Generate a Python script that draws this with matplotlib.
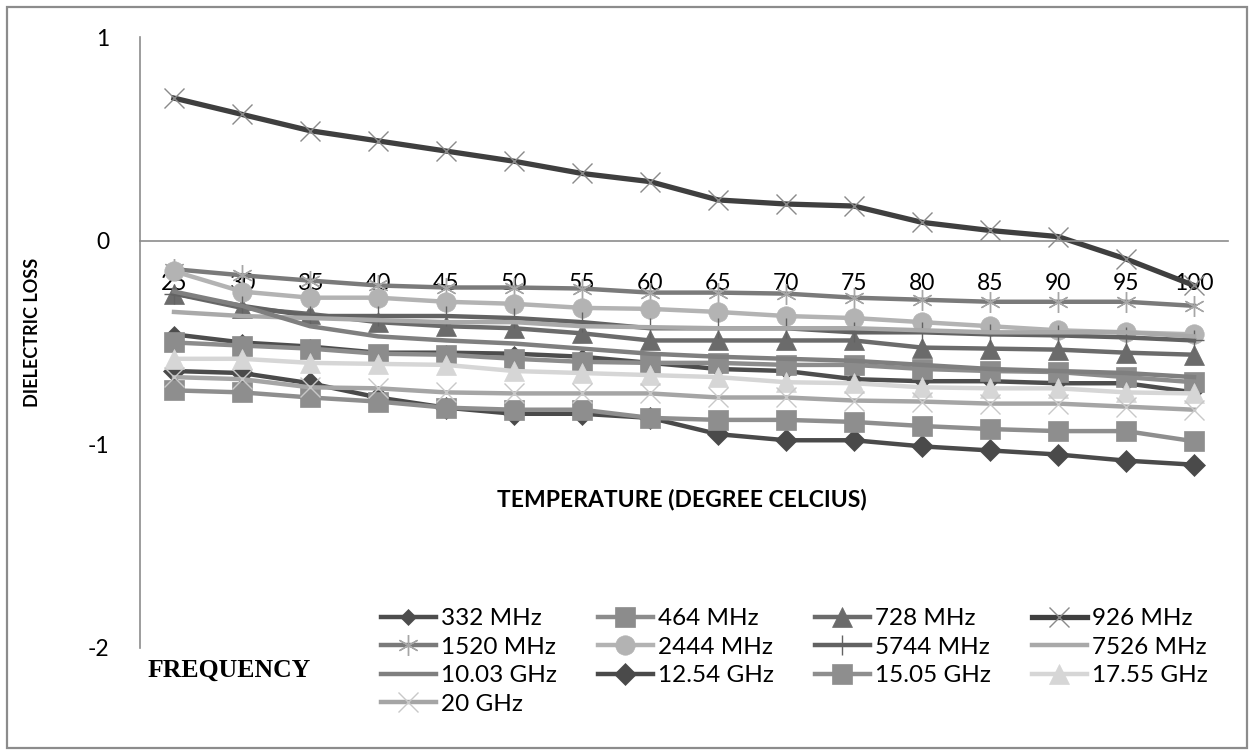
import matplotlib.pyplot as plt
from matplotlib.patches import Rectangle

plt.rcParams['font.family'] = ['Lato', 'DejaVu Sans']
plt.rcParams['axes.unicode_minus'] = False

# temperature steps (degree celcius)
temps = [25, 30, 35, 40, 45, 50, 55, 60, 65, 70, 75, 80, 85, 90, 95, 100]

# dielectric loss per frequency
loss_332 = [-0.46, -0.50, -0.52, -0.55, -0.55, -0.555, -0.57, -0.60, -0.63, -0.64, -0.68, -0.69, -0.69, -0.70, -0.70, -0.745]
loss_464 = [-0.50, -0.515, -0.53, -0.555, -0.56, -0.58, -0.595, -0.60, -0.60, -0.61, -0.61, -0.63, -0.64, -0.645, -0.67, -0.695]
loss_728 = [-0.26, -0.33, -0.36, -0.40, -0.42, -0.43, -0.455, -0.49, -0.49, -0.49, -0.49, -0.525, -0.53, -0.535, -0.55, -0.56]
loss_926 = [0.70, 0.62, 0.54, 0.49, 0.44, 0.39, 0.33, 0.29, 0.20, 0.18, 0.17, 0.09, 0.05, 0.02, -0.09, -0.22]
loss_1520 = [-0.14, -0.17, -0.196, -0.22, -0.23, -0.23, -0.235, -0.255, -0.255, -0.26, -0.28, -0.29, -0.30, -0.30, -0.30, -0.32]
loss_2444 = [-0.15, -0.25, -0.28, -0.28, -0.30, -0.31, -0.33, -0.335, -0.35, -0.37, -0.38, -0.40, -0.42, -0.44, -0.45, -0.46]
loss_5744 = [-0.26, -0.32, -0.37, -0.37, -0.37, -0.38, -0.40, -0.43, -0.43, -0.43, -0.45, -0.45, -0.46, -0.465, -0.475, -0.49]
loss_7526 = [-0.35, -0.37, -0.38, -0.39, -0.40, -0.40, -0.42, -0.425, -0.43, -0.43, -0.43, -0.44, -0.45, -0.45, -0.45, -0.47]
loss_10030 = [-0.25, -0.32, -0.42, -0.47, -0.49, -0.505, -0.53, -0.555, -0.57, -0.58, -0.59, -0.61, -0.63, -0.64, -0.65, -0.67]
loss_12540 = [-0.64, -0.65, -0.70, -0.77, -0.82, -0.85, -0.85, -0.87, -0.95, -0.98, -0.98, -1.01, -1.03, -1.05, -1.08, -1.10]
loss_15050 = [-0.735, -0.745, -0.77, -0.79, -0.82, -0.83, -0.83, -0.87, -0.88, -0.88, -0.89, -0.91, -0.925, -0.935, -0.935, -0.985]
loss_17550 = [-0.58, -0.58, -0.60, -0.605, -0.61, -0.64, -0.65, -0.66, -0.67, -0.695, -0.70, -0.72, -0.725, -0.725, -0.745, -0.75]
loss_20000 = [-0.67, -0.68, -0.72, -0.725, -0.745, -0.75, -0.75, -0.75, -0.77, -0.77, -0.785, -0.79, -0.80, -0.80, -0.815, -0.83]

# label, values, line colour, marker, marker size, marker colour
series = [
    ("332 MHz", loss_332, '#4d4d4d', 'D', 8, '#4d4d4d'),
    ("464 MHz", loss_464, '#8c8c8c', 's', 14, '#8c8c8c'),
    ("728 MHz", loss_728, '#6b6b6b', '^', 14, '#6b6b6b'),
    ("926 MHz", loss_926, '#3f3f3f', 'x', 15, '#8a8a8a'),
    ("1520 MHz", loss_1520, '#7a7a7a', (6, 2, 0), 15, '#a6a6a6'),
    ("2444 MHz", loss_2444, '#b3b3b3', 'o', 14, '#b3b3b3'),
    ("5744 MHz", loss_5744, '#626262', '+', 15, '#626262'),
    ("7526 MHz", loss_7526, '#a9a9a9', None, 0, '#a9a9a9'),
    ("10.03 GHz", loss_10030, '#7f7f7f', None, 0, '#7f7f7f'),
    ("12.54 GHz", loss_12540, '#4a4a4a', 'D', 11, '#4a4a4a'),
    ("15.05 GHz", loss_15050, '#8e8e8e', 's', 14, '#8e8e8e'),
    ("17.55 GHz", loss_17550, '#d6d6d6', '^', 14, '#d6d6d6'),
    ("20 GHz", loss_20000, '#a5a5a5', 'x', 15, '#c8c8c8'),
]

fig = plt.figure(figsize=(12.54, 7.55), dpi=100)
ax = fig.add_axes([140 / 1254, 1 - 648 / 755, 1088 / 1254, 611 / 755])

x = list(range(len(temps)))
handles = []
for name, vals, col, mk, ms, mcol in series:
    lw = 3.8 if name == "926 MHz" else 3.2
    h, = ax.plot(x, vals, color=col, lw=lw, marker=mk, markersize=ms,
                 markerfacecolor=mcol, markeredgecolor=mcol,
                 markeredgewidth=1.0 if mk in ('x', '+', (6, 2, 0)) else 0.5,
                 label=name, solid_joinstyle='round')
    handles.append(h)

ax.set_xlim(-0.5, len(temps) - 0.5)
ax.set_ylim(-2, 1)
ax.set_yticks([1, 0, -1, -2])
ax.set_xticks(x)
ax.set_xticklabels([str(t) for t in temps])

ax.spines['top'].set_visible(False)
ax.spines['right'].set_visible(False)
ax.spines['bottom'].set_position(('data', 0))
for s in ('left', 'bottom'):
    ax.spines[s].set_color('#8c8c8c')
    ax.spines[s].set_linewidth(1.2)
ax.tick_params(axis='x', length=0, pad=23, labelsize=16.5, colors='black')
ax.tick_params(axis='y', length=0, pad=22, labelsize=16.5, colors='black')
ax.set_facecolor('none')

fig.text(682 / 1254, 1 - 500 / 755, "TEMPERATURE (DEGREE CELCIUS)",
         ha='center', va='center', fontsize=16.5, fontweight='bold')
fig.text(33 / 1254, 1 - 332 / 755, "DIELECTRIC LOSS", rotation=90,
         ha='center', va='center', fontsize=13, fontweight='bold')
fig.text(148 / 1254, 1 - 670 / 755, "FREQUENCY", ha='left', va='center',
         fontsize=18.5, fontweight='bold', family='Liberation Serif')

# legend filled row by row, 4 columns
order = [0, 4, 8, 12, 1, 5, 9, 2, 6, 10, 3, 7, 11]
leg = fig.legend([handles[i] for i in order], [series[i][0] for i in order],
                 ncol=4, loc='upper left', bbox_to_anchor=(381 / 1254, 1 - 608 / 755),
                 frameon=False, fontsize=17.5, handlelength=2.26, handletextpad=0.2,
                 columnspacing=1.7, labelspacing=0.31, borderpad=0, borderaxespad=0,
                 numpoints=1)

fig.patches.append(Rectangle((7 / 1254, 7 / 755), 1240 / 1254, 741 / 755,
                             transform=fig.transFigure, fill=False,
                             edgecolor='#8c8c8c', linewidth=1.6))

fig.savefig("out.png", dpi=100)
